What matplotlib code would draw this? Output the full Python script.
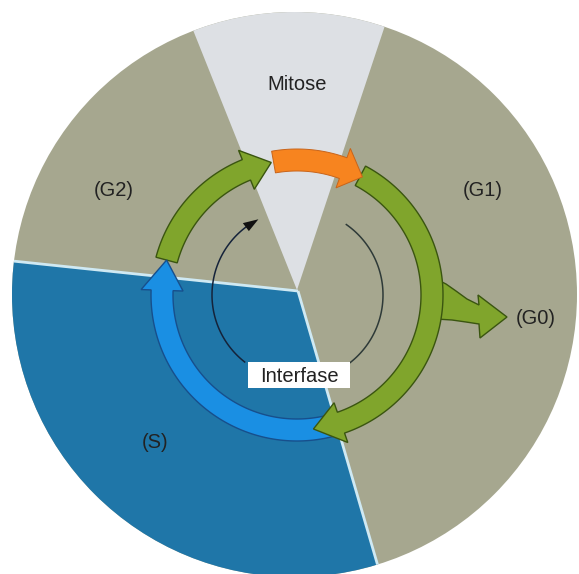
import matplotlib
matplotlib.use("Agg")
import numpy as np
import matplotlib.pyplot as plt
from matplotlib.patches import Circle, Polygon, Rectangle

# ---- data (phase names and angular layout of the cycle, degrees) ----
phase_labels = ["Mitose", "(G1)", "(S)", "(G2)", "(G0)"]
mitose_edges = [71.6, 111.8]          # angular span of the Mitose wedge
s_edges = [174.0, 286.2]              # angular span of the S sector
# ring arrows: (start, head base, tip) in degrees, clockwise
arrow_g1 = [62.0, -71.0, -83.0]
arrow_s = [-72.0, -182.0, -195.0]
arrow_g2 = [165.0, 112.0, 101.0]
arrow_m = [100.0, 70.0, 61.0]
inner_arc_left = [232.0, 126.0, 117.0]
inner_arc_right = [55.0, -53.0]
center_label = "Interfase"

# ---- colours ----
OLIVE = "#a6a78f"
SBLUE = "#1f76a8"
MITOSE = "#dde0e4"
GREEN = "#80a52c"
GREEN_EDGE = "#3a5510"
ORANGE = "#f7841f"
BLUE_ARR = "#1a8fe3"
BLUE_EDGE = "#174f8c"
LINE_PALE = "#cfe9f3"
TXT = "#222222"

W, H = 579, 574
fig = plt.figure(figsize=(W / 100, H / 100), dpi=100)
ax = fig.add_axes([0, 0, 1, 1])
ax.set_xlim(0, W)
ax.set_ylim(H, 0)
ax.axis("off")

DC = (294.5, 294.5)
DR = 282.5
disk = Circle(DC, DR, fc=OLIVE, ec="none", zorder=1)
ax.add_patch(disk)


def pt(c, r, a):
    a = np.radians(a)
    return c[0] + r * np.cos(a), c[1] - r * np.sin(a)


def wedge(apex, a0, a1, R=600, n=80):
    ang = np.linspace(a0, a1, n)
    pts = [apex] + [pt(apex, R, a) for a in ang]
    return pts


mw = Polygon(wedge((297, 290), mitose_edges[0], mitose_edges[1]), closed=True,
             fc=MITOSE, ec="none", zorder=2)
ax.add_patch(mw)
mw.set_clip_path(disk)

sapex = (298, 291)
sw = Polygon(wedge(sapex, s_edges[0], s_edges[1]), closed=True,
             fc=SBLUE, ec="none", zorder=3)
ax.add_patch(sw)
sw.set_clip_path(disk)
for a in s_edges:
    p = pt(sapex, 600, a)
    ln, = ax.plot([sapex[0], p[0]], [sapex[1], p[1]], color=LINE_PALE, lw=2,
                  zorder=4, solid_capstyle="butt")
    ln.set_clip_path(disk)

RC = (297, 295)

# thin inner arcs
ang = np.linspace(inner_arc_left[0], inner_arc_left[1], 80)
xy = np.array([pt(RC, 85, a) for a in ang])
ax.plot(xy[:, 0], xy[:, 1], color="#15233a", lw=1.1, zorder=5)
tip = pt(RC, 85, inner_arc_left[2])
b1 = pt(RC, 80, inner_arc_left[1] + 1)
b2 = pt(RC, 90, inner_arc_left[1] + 1)
ax.add_patch(Polygon([tip, b1, b2], closed=True, fc="#111111", ec="none", zorder=5))

ang = np.linspace(inner_arc_right[0], inner_arc_right[1], 80)
xy = np.array([pt(RC, 86, a) for a in ang])
ax.plot(xy[:, 0], xy[:, 1], color="#2e3a38", lw=1.1, zorder=5)

RM, HW, HH = 135, 11, 21


def arc_arrow(spec, fc, ec, lw=1.0, z=6):
    t0, t1, tt = spec
    a = np.linspace(t0, t1, 120)
    outer = [pt(RC, RM + HW, x) for x in a]
    inner = [pt(RC, RM - HW, x) for x in a[::-1]]
    head = [pt(RC, RM + HH, t1), pt(RC, RM, tt), pt(RC, RM - HH, t1)]
    poly = Polygon(outer + head + inner, closed=True, fc=fc, ec=ec, lw=lw,
                   zorder=z, joinstyle="miter")
    ax.add_patch(poly)


# G0 branch arrow
g0 = [(436, 279), (446, 284), (456, 291), (467, 299), (479, 305),
      (478, 295), (507, 317), (480, 338), (479, 324),
      (466, 322), (452, 320), (436, 319)]
ax.add_patch(Polygon(g0, closed=True, fc=GREEN, ec=GREEN_EDGE, lw=1.0, zorder=6))

arc_arrow(arrow_g2, GREEN, GREEN_EDGE, z=7)
arc_arrow(arrow_s, BLUE_ARR, BLUE_EDGE, z=8)
arc_arrow(arrow_g1, GREEN, GREEN_EDGE, z=9)
arc_arrow(arrow_m, ORANGE, "#c8641a", lw=0.7, z=10)

# labels
fam = ["Liberation Sans", "DejaVu Sans"]
label_pos = [(297, 84), (483, 190), (155, 442), (114, 190), (536, 318)]
for s, (x, y) in zip(phase_labels, label_pos):
    ax.text(x, y, s, ha="center", va="center", fontsize=14.5, color=TXT,
            family=fam, zorder=12)

ax.add_patch(Rectangle((248, 362), 102, 26, fc="white", ec="none", zorder=11))
ax.text(299, 376, center_label, ha="center", va="center", fontsize=14.5,
        color=TXT, family=fam, zorder=12)

fig.savefig("out.png", dpi=100, facecolor="white")
